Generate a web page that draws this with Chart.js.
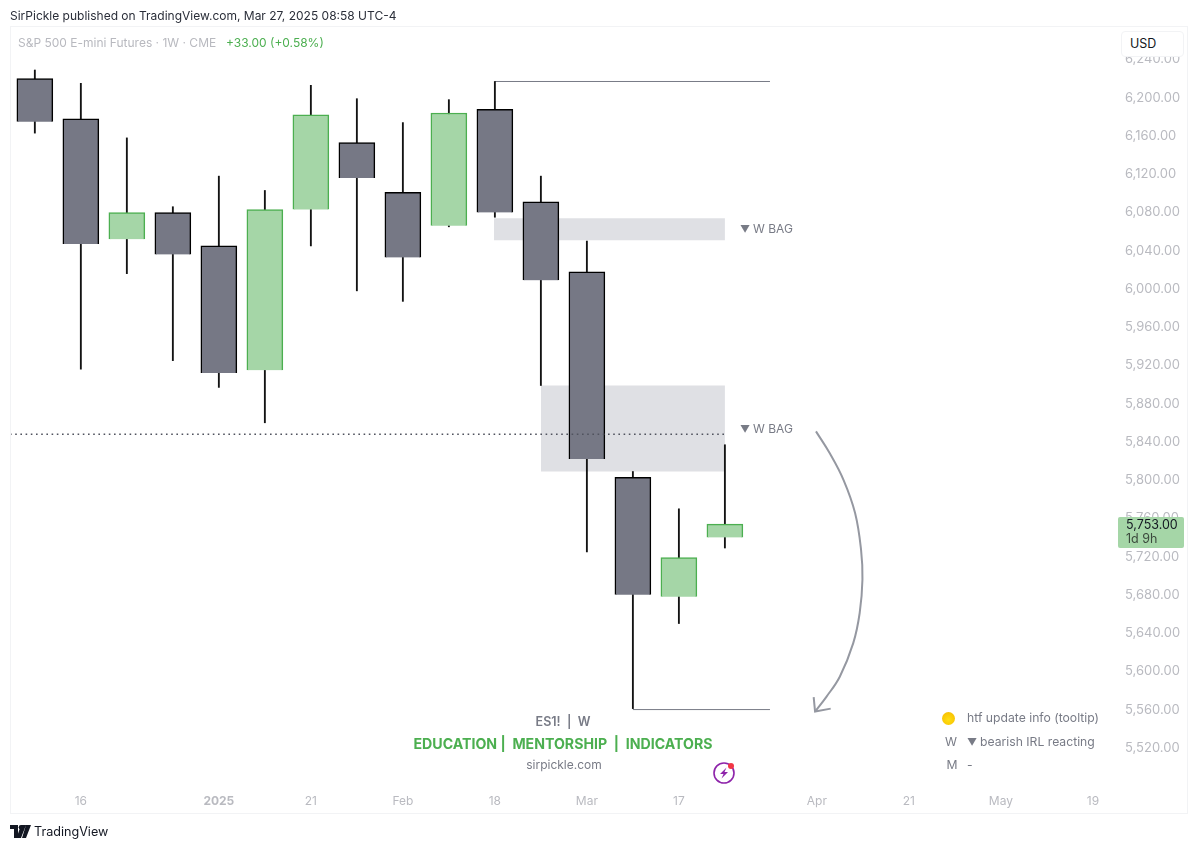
<!DOCTYPE html>
<html><head><meta charset="utf-8">
<script src="https://cdn.jsdelivr.net/npm/chart.js@4"></script>
<style>
html,body{margin:0;padding:0;background:#fff;width:1199px;height:849px;overflow:hidden;font-family:Inter,"Liberation Sans",sans-serif}
#wrap{position:absolute;left:0;top:0;width:1199px;height:849px}
canvas{position:absolute;left:0;top:0}
#frame{position:absolute;left:10px;top:26px;width:1178px;height:788px;border:1px solid #f2f3f5;box-sizing:border-box;pointer-events:none}
.t{position:absolute;white-space:nowrap;line-height:16px;transform:translateY(-50%)}
.c{transform:translate(-50%,-50%)}
.g{color:#787b86}
.tri{display:inline-block;width:13px;font-size:10px}
</style></head><body>
<div id="wrap">
<canvas id="c" width="1199" height="849"></canvas>
<div id="frame"></div>
<div class="t" style="left:10px;top:16px;font-size:12px;color:#2a2e39">SirPickle published on TradingView.com, Mar 27, 2025 08:58 UTC-4</div>
<div class="t" style="left:18px;top:43px;font-size:12px;color:#b8b9bf">S&amp;P 500 E-mini Futures · 1W · CME</div>
<div class="t" style="left:226px;top:43px;font-size:12px;color:#4caf50">+33.00 (+0.58%)</div>
<div class="t" style="left:1121px;top:31px;width:63px;height:26px;transform:none;box-sizing:border-box;background:#fff;border:1px solid #f2f3f5;border-radius:4px;font-size:12.5px;line-height:24px;padding-left:8px;color:#131722">USD</div>
<div class="t g" style="left:740px;top:229px;font-size:12px"><span class="tri">▼</span>W BAG</div>
<div class="t g" style="left:740px;top:429px;font-size:12px"><span class="tri">▼</span>W BAG</div>
<div class="t g c" style="left:563px;top:722px;font-size:12.5px;font-weight:600">ES1!&nbsp; |&nbsp; W</div>
<div class="t c" style="left:563px;top:744px;font-size:14.15px;font-weight:700;color:#4caf50">EDUCATION |&nbsp; MENTORSHIP&nbsp; |&nbsp; INDICATORS</div>
<div class="t g c" style="left:564px;top:765px;font-size:12px">sirpickle.com</div>
<div style="position:absolute;left:942px;top:712px;width:13px;height:13px;border-radius:50%;background:radial-gradient(circle at 50% 60%,#ffdf10,#f5b800)"></div>
<div class="t g" style="left:967px;top:718px;font-size:12.2px">htf update info (tooltip)</div>
<div class="t g c" style="left:951px;top:742px;font-size:12.2px">W</div>
<div class="t g" style="left:967px;top:742px;font-size:12.2px"><span class="tri">▼</span>bearish IRL reacting</div>
<div class="t g c" style="left:952px;top:765px;font-size:12.2px">M</div>
<div class="t g" style="left:967px;top:765px;font-size:12.2px">-</div>
<svg style="position:absolute;left:712px;top:761px" width="24" height="24" viewBox="0 0 24 24"><circle cx="12" cy="12" r="10" fill="none" stroke="#8e24aa" stroke-width="1.6"/><path d="M14.5 6.5 L8 13 L11.5 13 L9.5 17.5 L16 11 L12.5 11 Z" fill="#8e24aa"/><circle cx="19" cy="5" r="3" fill="#f23645"/></svg>
<div style="position:absolute;left:1118px;top:517px;width:66px;height:31px;background:#a5d6a7;border-radius:2px"></div>
<div class="t" style="left:1126px;top:525px;font-size:12.5px;color:#131722">5,753.00</div>
<div class="t" style="left:1126px;top:539px;font-size:12.5px;color:#3c4a3d">1d 9h</div>
<svg style="position:absolute;left:10px;top:825px" width="21" height="13" viewBox="0 0 21 13"><path d="M0 0H8V13H4V4H0Z M11 0 L16 0 L11 13 L6.5 13 Z M16 0H21L16 13H12Z" fill="#131722"/><circle cx="11" cy="2.3" r="2.3" fill="#131722"/></svg>
<div class="t" style="left:34px;top:832px;font-size:12.6px;color:#131722">TradingView</div>
</div>
<script>
// Weekly candles, one entry per week; index 0 is the first visible week
const weeks = [0,1,2,3,4,5,6,7,8,9,10,11,12,13,14,15];
const opens = [6219,6177,6051,6079,6044,5914,6082,6152,6100,6065,6187,6090,6017,5802,5677,5739];
const highs = [6228,6214,6157,6085,6117,6102,6212,6198,6173,6197,6216,6117,6049,5808,5769,5836];
const lows  = [6162,5915,6015,5924,5896,5859,6044,5997,5986,6064,6074,5898,5724,5560,5649,5728];
const closes= [6174,6046,6079,6035,5911,6082,6181,6115,6032,6183,6079,6008,5821,5679,5718,5753];

// Price axis
const priceTicks = [5520,5560,5600,5640,5680,5720,5760,5800,5840,5880,5920,5960,6000,6040,6080,6120,6160,6200,6240];
// Time axis
const timeTickWeeks = [1,4,6,8,10,12,14,17,19,21,23];
const timeTickLabels = ['16','2025','21','Feb','18','Mar','17','Apr','21','May','19'];

// Drawn levels and zones: [start week, end week, price(s)]
const topLevel = [10,15.98,6216];
const bottomLevel = [13,15.98,5559];
const currentDotted = [-0.54,15,5847];
const zoneA = [9.98,15,6073,6050];
const zoneB = [11,15,5898,5808];
// Hand-drawn arrow path (week, price)
const arrowWeeks = [16.98,17.28,17.58,17.83,17.96,17.99,17.93,17.79,17.5,17.21,16.96];
const arrowPrices = [5850,5827,5799,5764.5,5726,5695,5660,5628.5,5593.6,5572.6,5557];
const arrowHeadWeeks = [16.93,16.96,17.3];
const arrowHeadPrices = [5572,5557,5560];

const GRAY='#767885', GREEN='#a5d6a7', GREEN_EDGE='#4caf50', ZONE='#dfe0e4', LEVEL='#787b86', TICK='#b9bac0', ARROW='#9598a1';
const FONT='Inter, "Liberation Sans", sans-serif';

const body = up => weeks.filter(i => (closes[i] > opens[i]) === up)
  .map(i => ({x:weeks[i], y:[Math.min(opens[i],closes[i]), Math.max(opens[i],closes[i])]}));
const seg = (s,extra) => Object.assign({type:'line',data:[{x:s[0],y:s[2]},{x:s[1],y:s[2]}],pointRadius:0,borderWidth:1,borderColor:LEVEL,order:6},extra||{});
const zone = z => ({type:'line',data:[{x:z[0],y:z[2]},{x:z[1],y:z[2]}],pointRadius:0,borderWidth:0,borderColor:ZONE,backgroundColor:ZONE,fill:{value:z[3]},order:9});

new Chart(document.getElementById('c'),{
  type:'bar',
  data:{datasets:[
    zone(zoneA), zone(zoneB),
    seg(topLevel), seg(bottomLevel),
    seg(currentDotted,{borderColor:'#50535e',borderWidth:1.6,borderDash:[1.6,3.6],order:3}),
    {label:'wick',data:weeks.map(i=>({x:weeks[i],y:[lows[i],highs[i]]})),backgroundColor:'#131313',barThickness:1.2,order:5},
    {label:'down',data:body(false),backgroundColor:GRAY,borderColor:'#000',borderWidth:1.5,barThickness:36,order:4},
    {label:'up',data:body(true),backgroundColor:GREEN,borderColor:GREEN_EDGE,borderWidth:1.5,barThickness:36,order:4},
    {type:'line',data:arrowWeeks.map((w,i)=>({x:w,y:arrowPrices[i]})),tension:0.4,pointRadius:0,borderColor:ARROW,borderWidth:2,order:2},
    {type:'line',data:arrowHeadWeeks.map((w,i)=>({x:w,y:arrowHeadPrices[i]})),tension:0,pointRadius:0,borderColor:ARROW,borderWidth:2,order:2}
  ]},
  options:{
    responsive:false,animation:false,devicePixelRatio:1,
    layout:{padding:{left:10,right:11,top:27,bottom:35}},
    plugins:{legend:{display:false},tooltip:{enabled:false}},
    datasets:{bar:{grouped:false}},
    scales:{
      x:{type:'linear',min:-0.54,max:23.48,offset:false,
        grid:{display:false,drawTicks:false},border:{display:false},
        afterBuildTicks:s=>{s.ticks=timeTickWeeks.map(v=>({value:v}));},
        afterFit:s=>{s.height=27;},
        ticks:{autoSkip:false,maxRotation:0,padding:7,color:TICK,
          font:c=>({family:FONT,size:12,weight:c.tick&&timeTickLabels[timeTickWeeks.indexOf(c.tick.value)]==='2025'?'700':'400'}),
          callback:v=>timeTickLabels[timeTickWeeks.indexOf(v)]}},
      y:{type:'linear',position:'right',min:5478,max:6273,
        grid:{display:false,drawTicks:false},border:{display:false},
        afterBuildTicks:s=>{s.ticks=priceTicks.map(v=>({value:v}));},
        afterFit:s=>{s.width=73;},
        ticks:{autoSkip:false,padding:10,labelOffset:1,color:TICK,font:{family:FONT,size:13},
          callback:v=>v.toLocaleString('en-US',{minimumFractionDigits:2,maximumFractionDigits:2})}}
    }
  }
});
</script>
</body></html>
